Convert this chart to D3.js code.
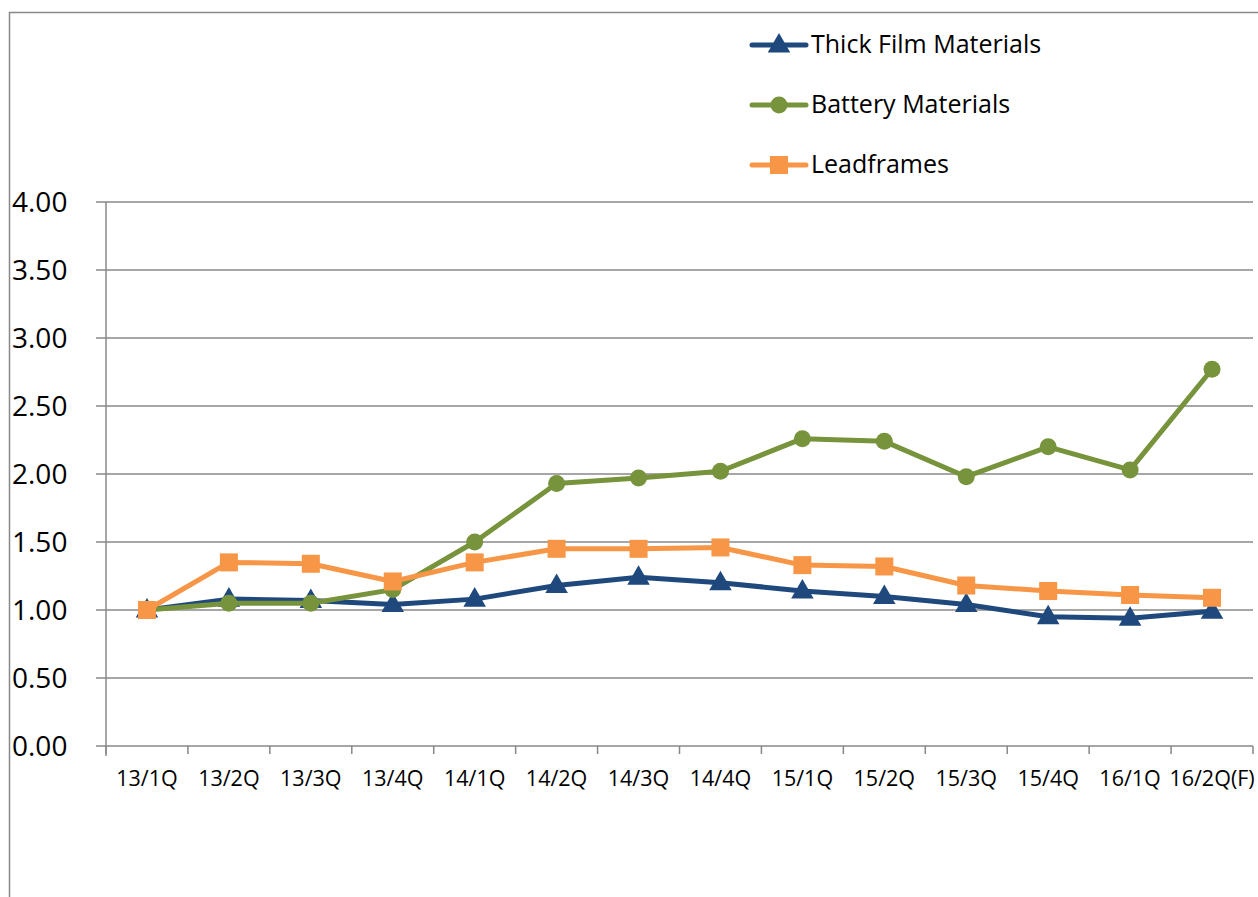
<!DOCTYPE html>
<html><head><meta charset="utf-8">
<script src="https://cdn.jsdelivr.net/npm/d3@7"></script>
<style>
html,body{margin:0;padding:0;background:#fff;}
svg{display:block;font-family:"Open Sans","Noto Sans",sans-serif;}
</style></head><body>
<svg id="chart" width="1258" height="897"></svg>
<script>
const categories = ["13/1Q","13/2Q","13/3Q","13/4Q","14/1Q","14/2Q","14/3Q","14/4Q","15/1Q","15/2Q","15/3Q","15/4Q","16/1Q","16/2Q(F)"];
const thickFilm = [1.00,1.08,1.07,1.04,1.08,1.18,1.24,1.20,1.14,1.10,1.04,0.95,0.94,0.99];
const battery   = [1.00,1.05,1.05,1.15,1.50,1.93,1.97,2.02,2.26,2.24,1.98,2.20,2.03,2.77];
const leadframes= [1.00,1.35,1.34,1.21,1.35,1.45,1.45,1.46,1.33,1.32,1.18,1.14,1.11,1.09];
const yTicks = [0,0.5,1,1.5,2,2.5,3,3.5,4];
const seriesNames = ["Thick Film Materials","Battery Materials","Leadframes"];

const series = [
  {name: seriesNames[0], values: thickFilm, color:"#1F497D", marker:"triangle"},
  {name: seriesNames[1], values: battery, color:"#77933C", marker:"circle"},
  {name: seriesNames[2], values: leadframes, color:"#F79646", marker:"square"}
];

const svg = d3.select("#chart");
const L = 106, R = 1253, T = 202, B = 746;

// outer frame
svg.append("path").attr("d","M9.5,897 V12.5 H1258").attr("fill","none").attr("stroke","#888").attr("stroke-width",1.5);

const x = d3.scaleBand().domain(categories).range([L,R]);
const y = d3.scaleLinear().domain([0,4]).range([B,T]);

// gridlines
svg.append("g").selectAll("line").data(yTicks).join("line")
  .attr("x1",L-10).attr("x2",R).attr("y1",d=>y(d)).attr("y2",d=>y(d))
  .attr("stroke","#888").attr("stroke-width",1.5);

// y axis line
svg.append("line").attr("x1",L).attr("x2",L).attr("y1",T).attr("y2",B+10).attr("stroke","#888").attr("stroke-width",1.5);

// x tick marks at boundaries
const bounds = categories.map(c=>x(c)).concat([R]);
svg.append("g").selectAll("line").data(bounds).join("line")
  .attr("x1",d=>d).attr("x2",d=>d).attr("y1",B).attr("y2",B+8)
  .attr("stroke","#888").attr("stroke-width",1.5);

// y labels
svg.append("g").selectAll("text").data(yTicks).join("text")
  .attr("x",12).attr("y",d=>y(d)).attr("dy","0.36em")
  .attr("font-size",28).attr("fill","#000").text(d=>d.toFixed(2));

// x labels
svg.append("g").selectAll("text").data(categories).join("text")
  .attr("x",d=>x(d)+x.bandwidth()/2).attr("y",B+40)
  .attr("text-anchor","middle").attr("font-size",21.5).attr("fill","#000").text(d=>d);

function drawMarker(g, type, color, cx, cy){
  if(type==="triangle"){
    g.append("path").attr("d",d3.symbol(d3.symbolTriangle, 220)()).attr("transform",`translate(${cx},${cy+1})`).attr("fill",color);
  } else if(type==="circle"){
    g.append("circle").attr("cx",cx).attr("cy",cy).attr("r",8.5).attr("fill",color);
  } else {
    g.append("rect").attr("x",cx-9).attr("y",cy-9).attr("width",18).attr("height",18).attr("fill",color);
  }
}

const line = d3.line().x((d,i)=>x(categories[i])+x.bandwidth()/2).y(d=>y(d));
series.forEach(s=>{
  const g = svg.append("g");
  g.append("path").attr("d",line(s.values)).attr("fill","none").attr("stroke",s.color).attr("stroke-width",5).attr("stroke-linejoin","round");
  s.values.forEach((v,i)=>drawMarker(g,s.marker,s.color,x(categories[i])+x.bandwidth()/2,y(v)));
});

// legend
const lg = svg.append("g");
series.forEach((s,i)=>{
  const cy = 45 + i*60;
  lg.append("line").attr("x1",752).attr("x2",806).attr("y1",cy).attr("y2",cy).attr("stroke",s.color).attr("stroke-width",5).attr("stroke-linecap","round");
  drawMarker(lg,s.marker,s.color,779,cy);
  lg.append("text").attr("x",811).attr("y",cy-1).attr("dy","0.36em").attr("font-size",25).attr("fill","#000").text(s.name);
});
</script>
</body></html>
